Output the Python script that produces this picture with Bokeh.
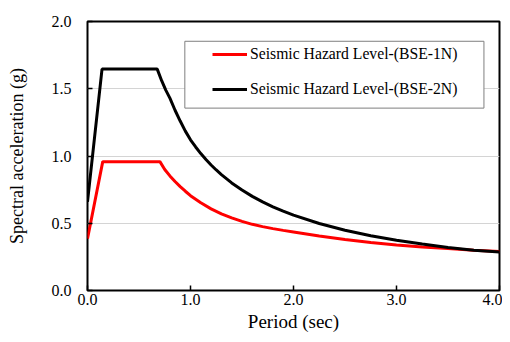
from bokeh.plotting import figure
from bokeh.models import (Range1d, FixedTicker, NumeralTickFormatter, Legend,
                          LegendItem, BoxAnnotation)
from bokeh.embed import file_html
from bokeh.resources import INLINE

# Period (sec)
period_bse1 = [0.0, 0.148, 0.703, 0.75, 0.80, 0.85, 0.90, 0.95, 1.0, 1.1, 1.2, 1.3, 1.4,
               1.5, 1.6, 1.7, 1.8, 1.9, 2.0, 2.25, 2.5, 2.75, 3.0, 3.25, 3.5, 3.75, 4.0]
sa_bse1 = [0.385, 0.958, 0.958, 0.90, 0.852, 0.81, 0.772, 0.738, 0.705, 0.652, 0.607, 0.570,
           0.540, 0.514, 0.492, 0.475, 0.460, 0.447, 0.435, 0.405, 0.380, 0.357, 0.338,
           0.324, 0.312, 0.30, 0.29]

period_bse2 = [0.0, 0.141, 0.677, 0.72, 0.76, 0.80, 0.85, 0.90, 0.95, 1.0, 1.05, 1.1, 1.15,
               1.2, 1.25, 1.3, 1.4, 1.5, 1.6, 1.7, 1.8, 1.9, 2.0, 2.25, 2.5, 2.75, 3.0,
               3.25, 3.5, 3.75, 4.0]
sa_bse2 = [0.66, 1.646, 1.646, 1.56, 1.49, 1.43, 1.34, 1.26, 1.185, 1.12, 1.067, 1.018, 0.974,
           0.933, 0.896, 0.862, 0.80, 0.747, 0.70, 0.659, 0.622, 0.59, 0.56, 0.498, 0.448,
           0.407, 0.373, 0.345, 0.32, 0.30, 0.287]

label_bse1 = "Seismic Hazard Level-(BSE-1N)"
label_bse2 = "Seismic Hazard Level-(BSE-2N)"
x_ticks = [0, 1, 2, 3, 4]
y_ticks = [0, 0.5, 1.0, 1.5, 2.0]

FONT = "Liberation Serif"

p = figure(width=502, height=334, output_backend="svg", toolbar_location=None,
           x_range=Range1d(0, 4), y_range=Range1d(0, 2),
           min_border_left=87, min_border_right=3, min_border_top=21, min_border_bottom=39)

p.outline_line_color = "black"
p.outline_line_width = 2
p.background_fill_color = "white"
p.border_fill_color = "white"

p.xgrid.visible = False
p.ygrid.grid_line_color = "#d4d4d4"
p.ygrid.grid_line_width = 1

for ax in (p.xaxis[0], p.yaxis[0]):
    ax.axis_line_color = None
    ax.major_tick_in = 5
    ax.major_tick_out = 0
    ax.major_tick_line_color = "black"
    ax.major_tick_line_width = 1.5
    ax.minor_tick_line_color = None
    ax.major_label_text_font = FONT
    ax.major_label_text_font_size = "16px"
    ax.major_label_text_color = "black"
    ax.axis_label_text_font = FONT
    ax.axis_label_text_font_style = "normal"
    ax.axis_label_text_color = "black"
    ax.formatter = NumeralTickFormatter(format="0.0")

p.xaxis.ticker = FixedTicker(ticks=x_ticks)
p.yaxis.ticker = FixedTicker(ticks=y_ticks)
p.xaxis.axis_label = "Period (sec)"
p.yaxis.axis_label = "Spectral acceleration (g)"
p.xaxis.axis_label_text_font_size = "19px"
p.yaxis.axis_label_text_font_size = "18px"
p.xaxis.major_label_standoff = 3
p.yaxis.major_label_standoff = 16
p.xaxis.axis_label_standoff = 3
p.yaxis.axis_label_standoff = 22

r1 = p.line(period_bse1, sa_bse1, line_color="#ff0000", line_width=3)
r2 = p.line(period_bse2, sa_bse2, line_color="black", line_width=3)

box = BoxAnnotation(left=0.945, right=3.849, bottom=1.356, top=1.853,
                    fill_color="white", fill_alpha=1.0,
                    line_color="#7f7f7f", line_width=1, line_alpha=1.0, line_dash="solid")
p.add_layout(box)

legend = Legend(items=[LegendItem(label=label_bse1, renderers=[r1]),
                       LegendItem(label=label_bse2, renderers=[r2])],
                location=(125, 191), padding=0, margin=0, spacing=15,
                glyph_width=35, glyph_height=20, label_height=20, label_standoff=3,
                label_text_font=FONT, label_text_font_size="15.7px",
                label_text_color="black",
                border_line_color=None, background_fill_alpha=0)
p.add_layout(legend, "center")

open("out.html", "w").write(file_html(p, INLINE))
